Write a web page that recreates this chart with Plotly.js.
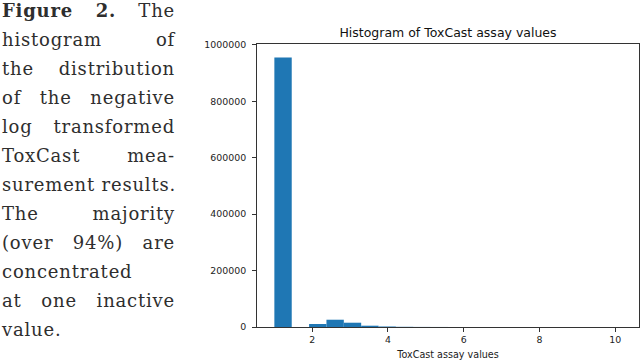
<!DOCTYPE html>
<html>
<head>
<meta charset="utf-8">
<script src="https://cdn.plot.ly/plotly-3.0.1.min.js"></script>
<style>
  html, body { margin: 0; padding: 0; background: #fff; }
  #wrap { position: relative; width: 640px; height: 361px; overflow: hidden; }
  #chart { position: absolute; left: 0; top: 0; width: 640px; height: 372px; }
  #caption {
    position: absolute; left: 2px; top: -4px; width: 173px;
    font-family: "DejaVu Serif", serif; font-size: 18px; line-height: 29px;
    color: #2e2e2e; letter-spacing: 0.8px;
  }
  #caption .j { text-align: justify; text-align-last: justify; white-space: nowrap; }
  #caption .l { text-align: left; white-space: nowrap; }
</style>
</head>
<body>
<div id="wrap">
  <div id="chart"></div>
  <div id="caption"></div>
</div>
<script>
// caption lines as typeset in the figure
const captionLines = [
  ['<b>Figure 2.</b> The', 'j'],
  ['histogram of', 'j'],
  ['the distribution', 'j'],
  ['of the negative', 'j'],
  ['log transformed', 'j'],
  ['ToxCast mea-', 'j'],
  ['surement results.', 'j'],
  ['The majority', 'j'],
  ['(over 94%) are', 'j'],
  ['concentrated', 'l'],
  ['at one inactive', 'j'],
  ['value.', 'l']
];

// histogram: 20 bins from 1 to ~10.17
const binStart = 1.0;
const binEnd = 10.17;
const nBins = 20;
const counts = [955000, 0, 10600, 25800, 15200, 4600, 1800, 700, 300, 150,
                100, 60, 40, 30, 20, 15, 10, 5, 5, 20];
const xTicks = [2, 4, 6, 8, 10];
const yTicks = [0, 200000, 400000, 600000, 800000, 1000000];

document.getElementById('caption').innerHTML = captionLines
  .map(([t, c]) => `<div class="${c}">${t}</div>`).join('');

const binW = (binEnd - binStart) / nBins;
const centers = counts.map((_, i) => binStart + binW * (i + 0.5));
const xPad = (binEnd - binStart) * 0.05;
const yMax = Math.max(...counts) * 1.05;

const axisStyle = {
  showline: true, linecolor: '#333', linewidth: 1, mirror: true,
  showgrid: false, zeroline: false,
  ticks: 'outside', ticklen: 4, tickwidth: 1, tickcolor: '#333',
  tickfont: { family: 'DejaVu Sans', size: 9.4, color: '#222' }
};

// figure a bit taller than the window so the x title can sit right at the bottom edge
Plotly.newPlot('chart', [{
  type: 'bar',
  x: centers,
  y: counts,
  width: binW,
  marker: { color: '#1f77b4', line: { width: 0 } },
  hoverinfo: 'x+y'
}], {
  width: 640, height: 372,
  margin: { l: 257, r: 1, t: 44, b: 45, pad: 0 },
  paper_bgcolor: 'rgba(0,0,0,0)',
  plot_bgcolor: '#fff',
  showlegend: false,
  font: { family: 'DejaVu Sans', color: '#222' },
  title: {
    text: 'Histogram of ToxCast assay values',
    font: { family: 'DejaVu Sans', size: 12.5, color: '#111' },
    xref: 'paper', x: 0.5, xanchor: 'center',
    yref: 'container', y: 1 - 32.7 / 372, yanchor: 'middle'
  },
  xaxis: Object.assign({}, axisStyle, {
    range: [binStart - xPad, binEnd + xPad],
    tickvals: xTicks,
    title: { text: 'ToxCast assay values', font: { family: 'DejaVu Sans', size: 9.6, color: '#222' }, standoff: 6.5 }
  }),
  yaxis: Object.assign({}, axisStyle, {
    range: [0, yMax],
    tickvals: yTicks,
    tickformat: 'd',
    ticklabelstandoff: 4
  })
}, { staticPlot: true });
</script>
</body>
</html>
